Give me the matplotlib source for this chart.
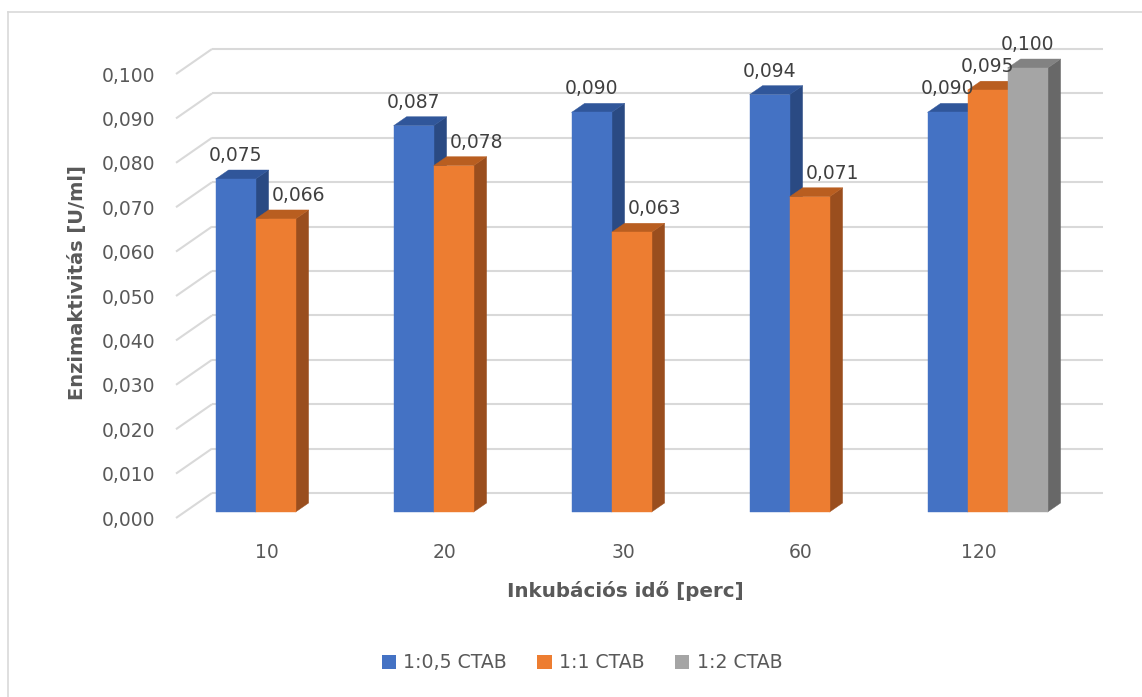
import matplotlib
matplotlib.use("Agg")
import matplotlib.pyplot as plt
from matplotlib.patches import Polygon, Patch
from matplotlib.lines import Line2D

# ---- data ----
categories = ["10", "20", "30", "60", "120"]
series_names = ["1:0,5 CTAB", "1:1 CTAB", "1:2 CTAB"]
ctab_05 = [0.075, 0.087, 0.090, 0.094, 0.090]
ctab_1 = [0.066, 0.078, 0.063, 0.071, 0.095]
ctab_2 = [None, None, None, None, 0.100]
y_ticks = [0.00, 0.01, 0.02, 0.03, 0.04, 0.05, 0.06, 0.07, 0.08, 0.09, 0.10]

series_values = [ctab_05, ctab_1, ctab_2]

# ---- style ----
face_colors = ["#4472C4", "#ED7D31", "#A5A5A5"]
top_colors = ["#30569A", "#B95E20", "#828282"]
side_colors = ["#2A4A83", "#9A4E1E", "#686868"]
grid_color = "#D9D9D9"
text_color = "#595959"
label_color = "#404040"

W, H = 1142, 697
fig = plt.figure(figsize=(W / 100, H / 100), dpi=100)

# plot area (pixels)
PL, PR, PT, PB = 176, 1103, 49, 518
WALL_DX_PX, WALL_DY_PX = 36, 25      # depth of the back wall
FRONT_DX_PX, FRONT_DY_PX = 8.6, 6    # bars sit slightly behind the front plane
BAR_DX_PX, BAR_DY_PX = 13, 9         # bar depth
BAR_W_PX = 40
CAT_STEP_PX = 178

ax = fig.add_axes([PL / W, 1 - PB / H, (PR - PL) / W, (PB - PT) / H])
x_lo = -(CAT_STEP_PX / 2 + 2) / CAT_STEP_PX
ax.set_xlim(x_lo, x_lo + (PR - PL) / CAT_STEP_PX)
y_top = y_ticks[-1] * (PB - PT) / (PB - PT - WALL_DY_PX)
ax.set_ylim(0, y_top)

xu = (ax.get_xlim()[1] - ax.get_xlim()[0]) / (PR - PL)
yu = y_top / (PB - PT)

wdx, wdy = WALL_DX_PX * xu, WALL_DY_PX * yu
fdx, fdy = FRONT_DX_PX * xu, FRONT_DY_PX * yu
bdx, bdy = BAR_DX_PX * xu, BAR_DY_PX * yu
bw = BAR_W_PX * xu

x0, x1 = ax.get_xlim()

# gridlines: short diagonal on the side wall + line on the back wall
for v in y_ticks:
    ax.plot([x0, x0 + wdx], [v, v + wdy], color=grid_color, lw=1.5,
            solid_capstyle="butt", zorder=1, clip_on=False)
    ax.plot([x0 + wdx, x1], [v + wdy, v + wdy], color=grid_color, lw=1.5,
            solid_capstyle="butt", zorder=1, clip_on=False)

z = 2
for i in range(len(categories)):
    for s, vals in enumerate(series_values):
        v = vals[i]
        if v is None:
            continue
        l = i + (s - 1.5) * bw + fdx
        b = fdy
        t = v + fdy
        front = [(l, b), (l + bw, b), (l + bw, t), (l, t)]
        top = [(l, t), (l + bw, t), (l + bw + bdx, t + bdy), (l + bdx, t + bdy)]
        side = [(l + bw, b), (l + bw + bdx, b + bdy), (l + bw + bdx, t + bdy), (l + bw, t)]
        for poly, col in ((side, side_colors[s]), (top, top_colors[s]), (front, face_colors[s])):
            ax.add_patch(Polygon(poly, closed=True, facecolor=col, edgecolor=col,
                                 lw=0.3, zorder=z, clip_on=False))
        z += 1

# value labels
for i in range(len(categories)):
    for s, vals in enumerate(series_values):
        v = vals[i]
        if v is None:
            continue
        l = i + (s - 1.5) * bw + fdx
        t = v + fdy + bdy
        txt = f"{v:.3f}".replace(".", ",")
        prev = series_values[s - 1][i] if s > 0 else None
        if prev is not None and prev > v:
            # keep clear of the taller neighbouring bar
            ax.annotate(txt, (l + bdx, t), xytext=(2.5, 6.5), textcoords="offset points",
                        ha="left", va="baseline", fontsize=13.5, color=label_color,
                        zorder=50, annotation_clip=False)
        else:
            ax.annotate(txt, (l + bw / 2, t), xytext=(0, 6.5), textcoords="offset points",
                        ha="center", va="baseline", fontsize=13.5, color=label_color,
                        zorder=50, annotation_clip=False)

ax.set_yticks(y_ticks)
ax.set_yticklabels([f"{v:.3f}".replace(".", ",") for v in y_ticks])
ax.set_xticks(range(len(categories)))
ax.set_xticklabels(categories)
ax.tick_params(axis="y", length=0, pad=15, labelsize=13.5, labelcolor=text_color)
ax.tick_params(axis="x", length=0, pad=18, labelsize=13.5, labelcolor=text_color)
for sp in ax.spines.values():
    sp.set_visible(False)
ax.patch.set_visible(False)

fig.text(77 / W, 1 - 283 / H, "Enzimaktivitás [U/ml]", rotation=90, ha="center",
         va="center", fontsize=14, fontweight="bold", color=text_color)
fig.text(625 / W, 1 - 591 / H, "Inkubációs idő [perc]", ha="center", va="center",
         fontsize=14.3, fontweight="bold", color=text_color)

handles = [Patch(facecolor=c, edgecolor="none") for c in face_colors]
fig.legend(handles, series_names, loc="center", bbox_to_anchor=(582 / W, 1 - 663 / H),
           ncol=3, frameon=False, fontsize=13.6, labelcolor=text_color,
           handlelength=0.75, handleheight=0.75, handletextpad=0.4, columnspacing=1.6)

# chart frame
fig.add_artist(Line2D([7.5 / W, 7.5 / W], [0, 1 - 12 / H], transform=fig.transFigure,
                      color=grid_color, lw=1.2))
fig.add_artist(Line2D([7.5 / W, 1], [1 - 12 / H, 1 - 12 / H], transform=fig.transFigure,
                      color=grid_color, lw=1.2))

fig.savefig("out.png", dpi=100, facecolor="white")
